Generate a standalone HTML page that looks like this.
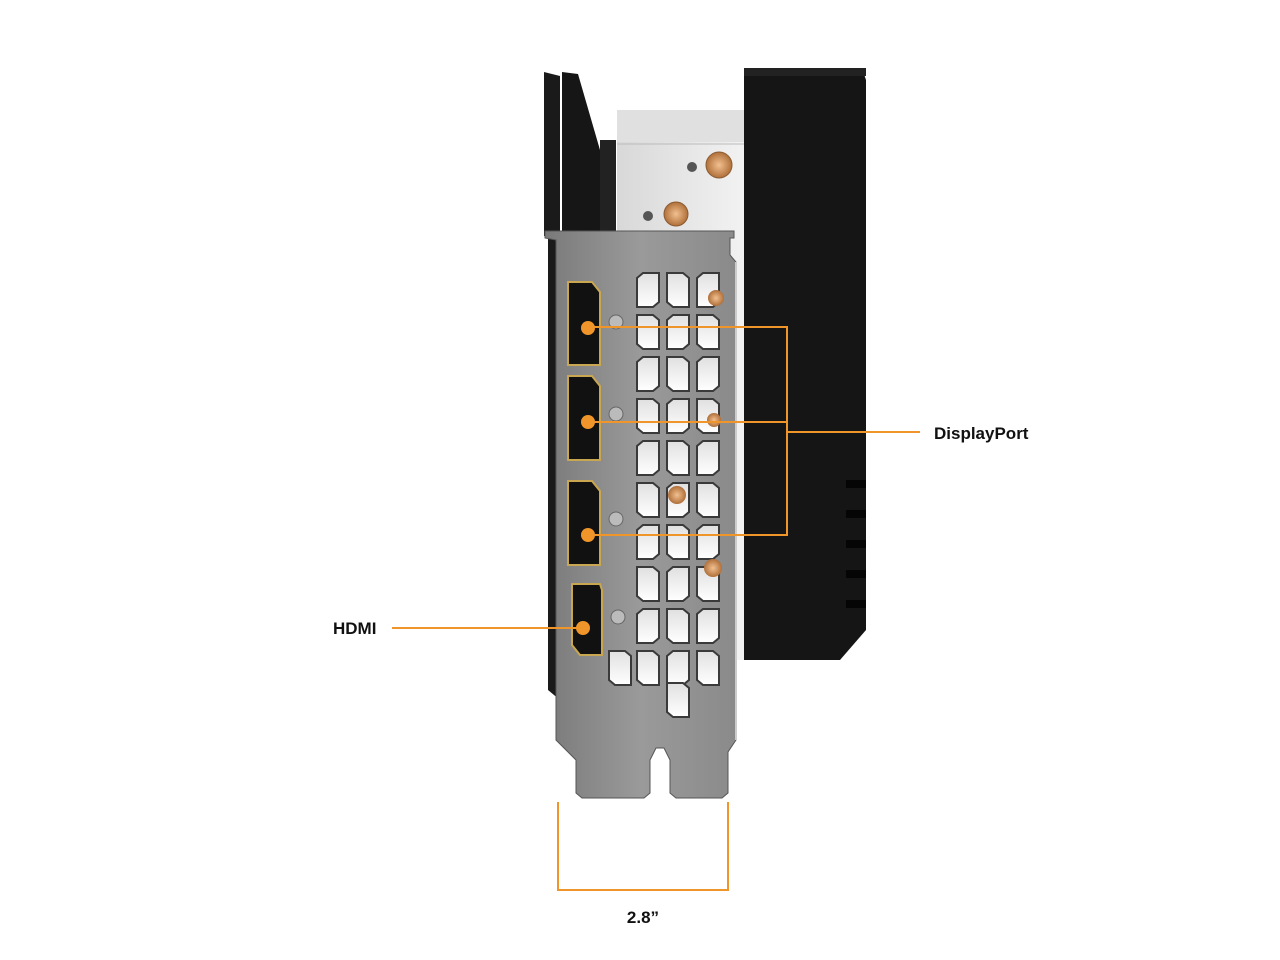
<!DOCTYPE html>
<html><head><meta charset="utf-8"><style>
html,body{margin:0;padding:0;background:#fff;}
svg{display:block;}
text{font-family:"Liberation Sans",sans-serif;font-weight:bold;fill:#111;}
</style></head><body>
<svg width="1280" height="960" viewBox="0 0 1280 960" xmlns="http://www.w3.org/2000/svg">
<defs>
<linearGradient id="br" x1="0" x2="1" y1="0" y2="0">
<stop offset="0" stop-color="#7a7a7a"/><stop offset="0.5" stop-color="#9a9a9a"/><stop offset="1" stop-color="#8a8a8a"/>
</linearGradient>
<linearGradient id="sil" x1="0" x2="1"><stop offset="0" stop-color="#d8d8d8"/><stop offset="1" stop-color="#f2f2f2"/></linearGradient>
<linearGradient id="hole" x1="0" x2="0" y1="0" y2="1"><stop offset="0" stop-color="#e0e0e0"/><stop offset="1" stop-color="#ffffff"/></linearGradient>
<radialGradient id="cu"><stop offset="0" stop-color="#f2c090"/><stop offset="1" stop-color="#b0703a"/></radialGradient>
<clipPath id="hc"><rect x="632" y="266" width="102" height="455"/></clipPath>
<g id="hx"><path d="M-11,-12 L-5,-17 L11,-17 L11,12 L5,17 L-11,17 Z" fill="url(#hole)" stroke="#3a3a3a" stroke-width="2"/></g>
<g id="hx2"><path d="M-11,-17 L5,-17 L11,-12 L11,17 L-5,17 L-11,12 Z" fill="url(#hole)" stroke="#3a3a3a" stroke-width="2"/></g>
</defs>
<path d="M744,68 L862,68 L866,80 L866,630 L840,660 L744,660 Z" fill="#151515"/>
<rect x="744" y="68" width="122" height="8" fill="#222"/>
<g fill="#050505">
<rect x="846" y="480" width="20" height="8"/><rect x="846" y="510" width="20" height="8"/><rect x="846" y="540" width="20" height="8"/><rect x="846" y="570" width="20" height="8"/><rect x="846" y="600" width="20" height="8"/>
</g>
<rect x="617" y="110" width="127" height="550" fill="url(#sil)"/>
<rect x="617" y="110" width="127" height="32" fill="#e0e0e0"/>
<line x1="617" y1="144" x2="744" y2="144" stroke="#bbb"/>
<circle cx="692" cy="167" r="5" fill="#555"/><circle cx="719" cy="165" r="13" fill="url(#cu)" stroke="#8a5a30"/>
<circle cx="648" cy="216" r="5" fill="#555"/><circle cx="676" cy="214" r="12" fill="url(#cu)" stroke="#8a5a30"/>
<path d="M544,72 L560,76 L560,236 L544,236 Z" fill="#1a1a1a"/>
<path d="M562,72 L578,74 L600,150 L600,236 L562,236 Z" fill="#161616"/>
<rect x="600" y="140" width="16" height="96" fill="#222"/>
<path d="M548,236 L560,236 L560,700 L548,690 Z" fill="#1a1a1a"/>
<path d="M545,231 L734,231 L734,238 L730,238 L730,255 L736,262 L736,740 L728,752 L728,793 L722,798 L676,798 L670,793 L670,760 L664,748 L656,748 L650,760 L650,793 L644,798 L582,798 L576,793 L576,760 L556,740 L556,240 L545,238 Z" fill="url(#br)" stroke="#555" stroke-width="1"/>
<g clip-path="url(#hc)">
<use href="#hx" x="648" y="290"/><use href="#hx2" x="648" y="332"/><use href="#hx" x="648" y="374"/><use href="#hx2" x="648" y="416"/><use href="#hx" x="648" y="458"/><use href="#hx2" x="648" y="500"/><use href="#hx" x="648" y="542"/><use href="#hx2" x="648" y="584"/><use href="#hx" x="648" y="626"/><use href="#hx2" x="648" y="668"/>
<use href="#hx2" x="678" y="290"/><use href="#hx" x="678" y="332"/><use href="#hx2" x="678" y="374"/><use href="#hx" x="678" y="416"/><use href="#hx2" x="678" y="458"/><use href="#hx" x="678" y="500"/><use href="#hx2" x="678" y="542"/><use href="#hx" x="678" y="584"/><use href="#hx2" x="678" y="626"/><use href="#hx" x="678" y="668"/><use href="#hx2" x="678" y="700"/>
<use href="#hx" x="708" y="290"/><use href="#hx2" x="708" y="332"/><use href="#hx" x="708" y="374"/><use href="#hx2" x="708" y="416"/><use href="#hx" x="708" y="458"/><use href="#hx2" x="708" y="500"/><use href="#hx" x="708" y="542"/><use href="#hx2" x="708" y="584"/><use href="#hx" x="708" y="626"/><use href="#hx2" x="708" y="668"/>
</g>
<use href="#hx2" x="620" y="668"/>
<circle cx="716" cy="298" r="8" fill="url(#cu)"/><circle cx="714" cy="420" r="7" fill="url(#cu)"/><circle cx="677" cy="495" r="9" fill="url(#cu)"/><circle cx="713" cy="568" r="9" fill="url(#cu)"/>
<line x1="736" y1="262" x2="736" y2="740" stroke="#ccc" stroke-width="2"/>
<g stroke="#c9a650" stroke-width="2" fill="#111">
<path d="M568,282 L592,282 L600,292 L600,365 L568,365 Z"/>
<path d="M568,376 L592,376 L600,386 L600,460 L568,460 Z"/>
<path d="M568,481 L592,481 L600,491 L600,565 L568,565 Z"/>
<path d="M572,584 L600,584 L602,590 L602,655 L580,655 L572,645 Z"/>
</g>
<g fill="#bbb" stroke="#666">
<circle cx="616" cy="322" r="7"/><circle cx="616" cy="414" r="7"/><circle cx="616" cy="519" r="7"/><circle cx="618" cy="617" r="7"/>
</g>
<g stroke="#f0952a" stroke-width="2" fill="none">
<path d="M588,327 L787,327 L787,535 L588,535"/>
<line x1="588" y1="422" x2="787" y2="422"/>
<line x1="787" y1="432" x2="920" y2="432"/>
<line x1="392" y1="628" x2="583" y2="628"/>
<path d="M558,802 L558,890 L728,890 L728,802"/>
</g>
<g fill="#f0952a">
<circle cx="588" cy="328" r="7"/><circle cx="588" cy="422" r="7"/><circle cx="588" cy="535" r="7"/><circle cx="583" cy="628" r="7"/>
</g>
<text x="934" y="439" font-size="17">DisplayPort</text>
<text x="333" y="634" font-size="17">HDMI</text>
<text x="643" y="923" font-size="17" text-anchor="middle">2.8”</text>
</svg>
</body></html>
